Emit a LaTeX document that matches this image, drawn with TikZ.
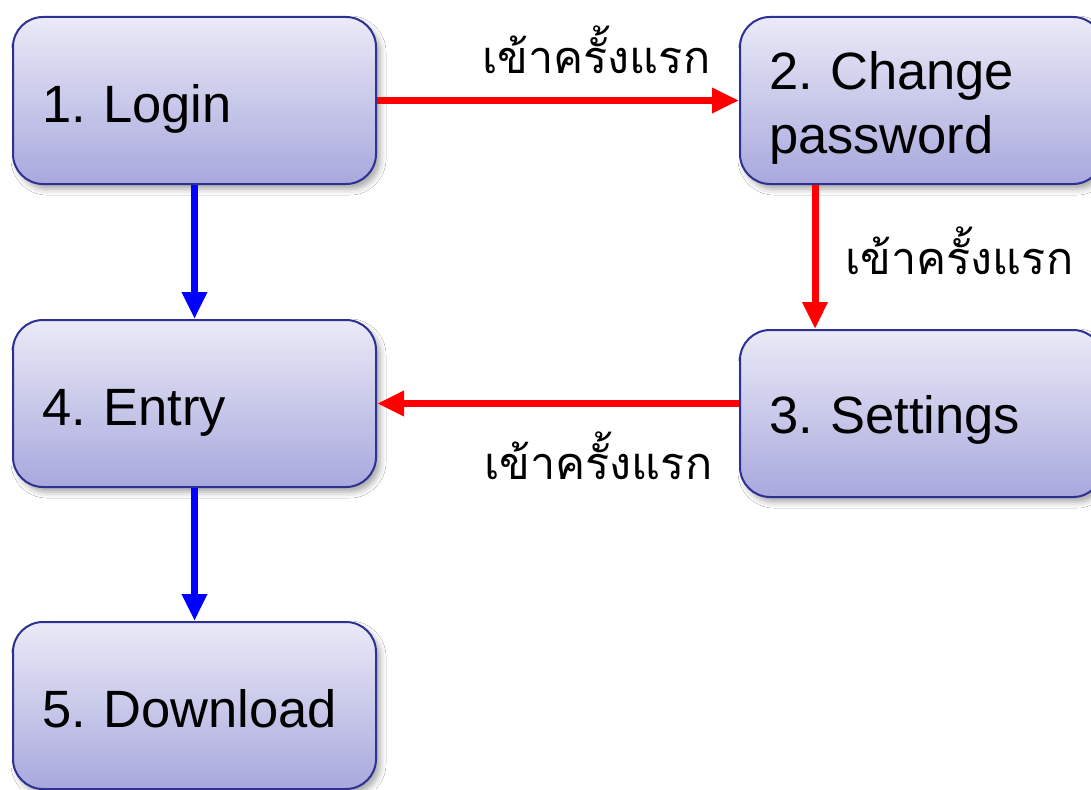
\documentclass[tikz,border=0pt]{standalone}
\usepackage{fontspec}
\setmainfont{Liberation Sans}
\newfontfamily\thaifont[Script=Thai]{Loma}
\usetikzlibrary{arrows.meta,shadows.blur}
\definecolor{boxborder}{RGB}{46,49,146}
\definecolor{boxtop}{RGB}{234,234,247}
\definecolor{boxbot}{RGB}{168,168,222}
\definecolor{redarrow}{RGB}{255,0,0}
\definecolor{bluearrow}{RGB}{0,0,255}
\frenchspacing
\hyphenpenalty=10000
\exhyphenpenalty=10000
\begin{document}
\begin{tikzpicture}[x=1pt,y=-1pt,
  box/.style={draw=boxborder, line width=2pt, rounded corners=30pt,
    top color=boxtop, bottom color=boxbot,
    minimum width=363pt, minimum height=167pt, text width=305pt,
    align=left, inner sep=0pt, font=\fontsize{52.5}{63}\selectfont,
    blur shadow={shadow xshift=4pt, shadow yshift=-5pt, shadow blur radius=6pt, shadow opacity=35}},
  oneline/.style={text height=50pt, text depth=7pt},
  redflow/.style={draw=redarrow, line width=7pt, -{Triangle[length=27pt,width=24pt]}},
  blueflow/.style={draw=bluearrow, line width=7pt, -{Triangle[length=27pt,width=24pt]}},
  thailabel/.style={font=\thaifont\fontsize{45}{54}\selectfont, inner sep=0pt, anchor=base west}]
\useasboundingbox (0,0) rectangle (1091,789);
\fill[white] (0,0) rectangle (1091,789);
\node[box, oneline] (login) at (194.5,100.5) {1. Login};
\node[box, text height=44pt, text depth=65pt] (chg) at (921.5,100.5) {2. Change\\password};
\node[box, oneline] (ent) at (194.5,403.5) {4. Entry};
\node[box, text height=46pt, text depth=7pt] (set) at (921.5,413.5) {3. Settings};
\node[box, oneline] (dl) at (194.5,705.5) {5. Download};
\coordinate (c815) at (815,0);
\draw[redflow] (login.east) -- (chg.west);
\draw[blueflow] (login.south) -- (ent.north);
\draw[redflow] (chg.south -| c815) -- (set.north -| c815);
\draw[redflow] (set.west |- ent.east) -- (ent.east);
\draw[blueflow] (ent.south) -- (dl.north);
\node[thailabel] (l1) at (482,74) {เข้าครั้งแรก};
\node[thailabel] (l2) at (845,274) {เข้าครั้งแรก};
\node[thailabel] (l3) at (484,479) {เข้าครั้งแรก};
\end{tikzpicture}
\end{document}
